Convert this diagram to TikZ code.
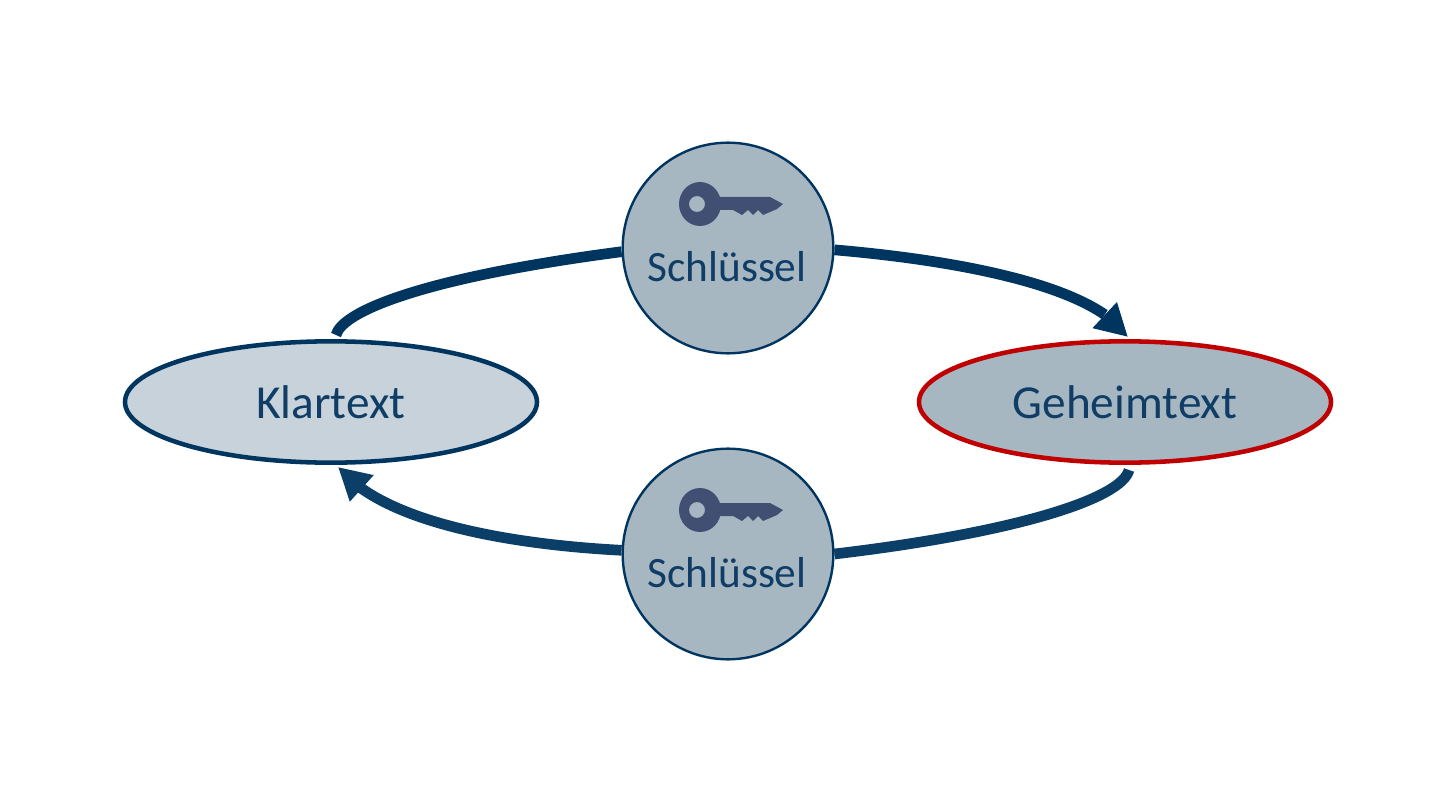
\documentclass[tikz,border=0pt]{standalone}
\usepackage{fontspec}
\setmainfont{Carlito}
\usepackage{tikz}
\usetikzlibrary{arrows.meta, bending, positioning, shapes.geometric, backgrounds}

\definecolor{navy}{HTML}{003560}
\definecolor{softnavy}{HTML}{0C3F68}
\definecolor{inktext}{HTML}{0F3D66}
\definecolor{paleblue}{HTML}{C7D2DA}
\definecolor{midblue}{HTML}{A7B7C2}
\definecolor{keyblue}{HTML}{414F72}
\definecolor{cipherred}{HTML}{C00000}

\begin{document}
\begin{tikzpicture}[x=0.75pt, y=-0.75pt,
  textnode/.style = {ellipse, draw=navy, line width=3.4pt, minimum width=309pt, minimum height=91pt, inner sep=0pt, text=inktext, font=\fontsize{35.5}{35.5}\selectfont},
  keynode/.style = {circle, draw=navy, fill=midblue, line width=1.8pt, minimum size=158pt, inner sep=0pt},
  keylabel/.style = {text=inktext, inner sep=0pt, font=\fontsize{32.5}{32.5}\selectfont},
  flow/.style = {draw=navy, line width=8pt},
  flowtip/.style = {flow, -{Triangle[length=24pt, width=25pt, flex]}},
  keyglyph/.pic = {
    \fill[keyblue, even odd rule] (-28,0) ellipse (21 and 22) (-31,0) circle (8);
    \fill[keyblue] (-10,-7) -- (42,-7) -- (55,0) -- (49,5) -- (35,11) -- (30,6) -- (25,11) -- (20,6) -- (14,11) -- (5,6) -- (-10,6) -- cycle;
  }
]
\useasboundingbox (0,0) rectangle (1440,809);

\node[textnode, fill=paleblue] (klartext) at (331,402) {Klartext};
\node[textnode, fill=midblue, draw=cipherred] (geheimtext) at (1125,402) {Geheimtext};
\node[keynode] (keytop) at (728,248) {};
\node[keynode] (keybottom) at (728,554) {};

\coordinate (tipstart) at (336,335);
\coordinate (tipend) at (1128,337);
\coordinate (backstart) at (1129,470);
\coordinate (backend) at (338,467);

\begin{scope}[on background layer]
\draw[flow] (tipstart) .. controls (342,312) and (420,278) .. (keytop.182);
\draw[flowtip] (keytop.-1) .. controls (930,258) and (1090,280) .. (tipend);
\draw[flow, draw=softnavy] (backstart) .. controls (1122,498) and (1020,532) .. (keybottom.east);
\draw[flowtip, draw=softnavy] (keybottom.178) .. controls (520,545) and (385,525) .. (backend);
\end{scope}

\pic at (728,204) {keyglyph};
\pic at (728,510) {keyglyph};
\node[keylabel] (keytoplabel) at (727,267) {Schlüssel};
\node[keylabel] (keybottomlabel) at (727,573) {Schlüssel};
\end{tikzpicture}
\end{document}
